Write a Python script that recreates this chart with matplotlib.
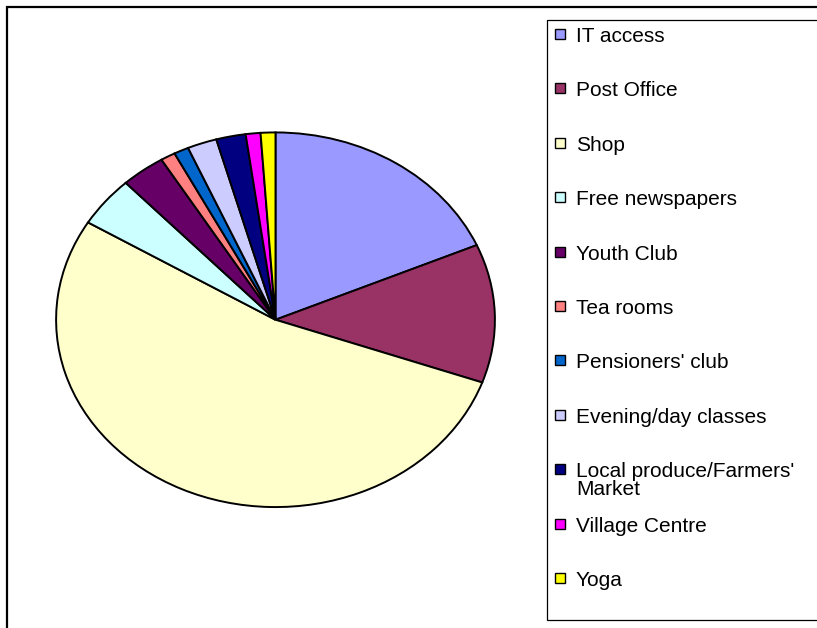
import matplotlib
matplotlib.use("Agg")
import matplotlib.pyplot as plt
from matplotlib.patches import Rectangle

labels = ["IT access", "Post Office", "Shop", "Free newspapers", "Youth Club",
          "Tea rooms", "Pensioners' club", "Evening/day classes",
          "Local produce/Farmers'\nMarket", "Village Centre", "Yoga"]
counts = [17, 11, 49, 4, 3, 1, 1, 2, 2, 1, 1]
colors = ["#9999FF", "#993366", "#FFFFCC", "#CCFFFF", "#660066", "#FF8080",
          "#0066CC", "#CCCCFF", "#000080", "#FF00FF", "#FFFF00"]

W, H = 817, 628
fig = plt.figure(figsize=(W / 100, H / 100), dpi=100)
plt.rcParams['font.family'] = ['Liberation Sans', 'DejaVu Sans']

# pie (Excel style, slightly squashed ellipse)
ax = fig.add_axes([55 / W, (H - 508) / H, 441 / W, 376.5 / H])
ax.pie(counts, colors=colors, startangle=90, counterclock=False,
       wedgeprops=dict(edgecolor="black", linewidth=1.4))
ax.set_xlim(-1.005, 1.005)
ax.set_ylim(-1.005, 1.005)
ax.set_aspect("auto")
ax.axis("off")

# overlay in pixel coords for frame + legend
ov = fig.add_axes([0, 0, 1, 1], zorder=-1)
ov.set_xlim(0, W)
ov.set_ylim(H, 0)
ov.axis("off")
ov.plot([7.5, 7.5, W + 5], [H + 5, 6.5, 6.5], color="black", lw=1.6,
        solid_joinstyle="miter")

lg = fig.add_axes([0, 0, 1, 1])
lg.set_xlim(0, W)
lg.set_ylim(H, 0)
lg.axis("off")
lg.add_patch(Rectangle((547, 19.5), 300, 600.5, fill=False, edgecolor="black",
                       lw=0.9, clip_on=False))
for i, (lab, c) in enumerate(zip(labels, colors)):
    y = 34 + 54.4 * i
    lg.add_patch(Rectangle((555, y - 5), 10, 10, facecolor=c,
                           edgecolor="black", lw=1.0))
    lg.text(576, y - 7, lab, fontsize=15, va="top", ha="left",
            linespacing=0.9, clip_on=False)

fig.savefig("out.png", dpi=100)
